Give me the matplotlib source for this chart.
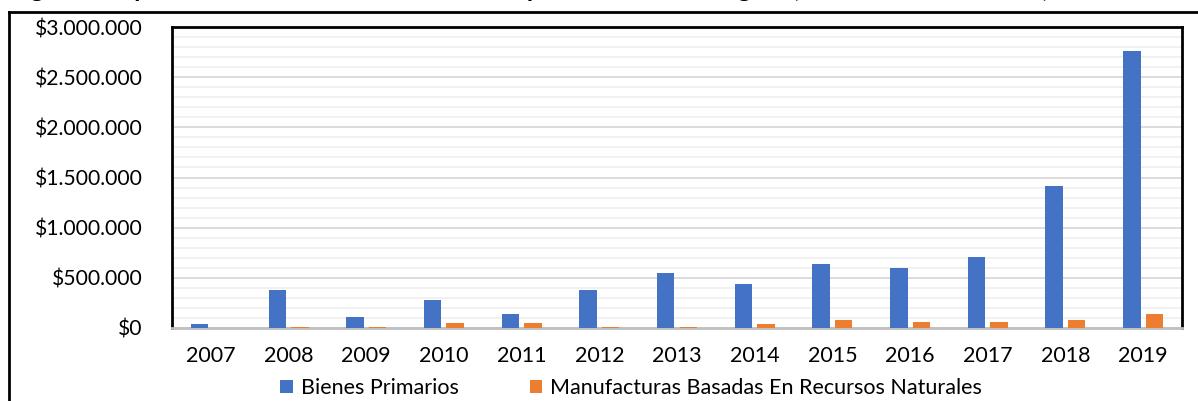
import matplotlib
matplotlib.use("Agg")
import matplotlib.pyplot as plt
import numpy as np
from matplotlib.ticker import FuncFormatter, MultipleLocator
from matplotlib.lines import Line2D

years = ["2007", "2008", "2009", "2010", "2011", "2012", "2013",
         "2014", "2015", "2016", "2017", "2018", "2019"]
bienes_primarios = [40000, 375000, 110000, 280000, 140000, 375000, 548000,
                    440000, 637000, 595000, 710000, 1415000, 2760000]
manufacturas_rn = [2000, 5000, 10000, 47000, 53000, 10000, 10000,
                   38000, 80000, 63000, 63000, 83000, 140000]
series_names = ["Bienes Primarios", "Manufacturas Basadas En Recursos Naturales"]
title_text = ("Figura 3 Exportaciones Anuales Totales del Departamento "
              "Por Región (Miles de Dólares FOB)")

plt.rcParams['font.family'] = ['Lato', 'DejaVu Sans']

W, H = 1198, 401
fig = plt.figure(figsize=(W / 100, H / 100), dpi=100)

# outer frame lines (top and left)
fig.add_artist(Line2D([9 / W, 1.0], [1 - 12 / H, 1 - 12 / H], color="black", lw=2, transform=fig.transFigure))
fig.add_artist(Line2D([9 / W, 9 / W], [0, 1 - 12 / H], color="black", lw=2, transform=fig.transFigure))
# title, cut off at the top edge as in the reference (only descenders visible)
fig.text(10 / W, 1 + 3 / H, title_text, fontsize=18, fontweight="bold", va="baseline", ha="left")

left, right, top, bottom = 172, 1182, 27, 328
ax = fig.add_axes([left / W, 1 - bottom / H, (right - left) / W, (bottom - top) / H])

x = np.arange(len(years))
w = 0.225
ax.bar(x - 0.145, bienes_primarios, width=w, color="#4472C4", label=series_names[0], zorder=3)
ax.bar(x + 0.145, manufacturas_rn, width=w, color="#ED7D31", label=series_names[1], zorder=3)

ax.set_xlim(-0.5, len(years) - 0.5)
ax.set_ylim(0, 3000000)
ax.yaxis.set_major_locator(MultipleLocator(500000))
ax.yaxis.set_minor_locator(MultipleLocator(100000))
ax.yaxis.set_major_formatter(FuncFormatter(lambda v, p: "$" + f"{int(v):,}".replace(",", ".")))
ax.grid(which="major", axis="y", color="#d9d9d9", lw=1.3, zorder=0)
ax.grid(which="minor", axis="y", color="#f0f0f0", lw=1.3, zorder=0)
ax.set_xticks(x)
ax.set_xticklabels(years)
ax.tick_params(axis="both", which="both", length=0, colors="black")
ax.tick_params(axis="x", labelsize=15.5, pad=13)
ax.tick_params(axis="y", labelsize=15.2, pad=21)

for s in ["left", "top", "right"]:
    ax.spines[s].set_color("black")
    ax.spines[s].set_linewidth(2)
ax.spines["bottom"].set_color("#bfbfbf")
ax.spines["bottom"].set_linewidth(2)

fig.legend(*ax.get_legend_handles_labels(), loc="center", bbox_to_anchor=(631 / W, 1 - 388 / H),
           ncol=2, frameon=False, fontsize=15.5,
           handlelength=0.6, handleheight=0.6, handletextpad=0.35, columnspacing=3.3,
           bbox_transform=fig.transFigure, borderaxespad=0, borderpad=0)

fig.savefig("out.png", dpi=100)
